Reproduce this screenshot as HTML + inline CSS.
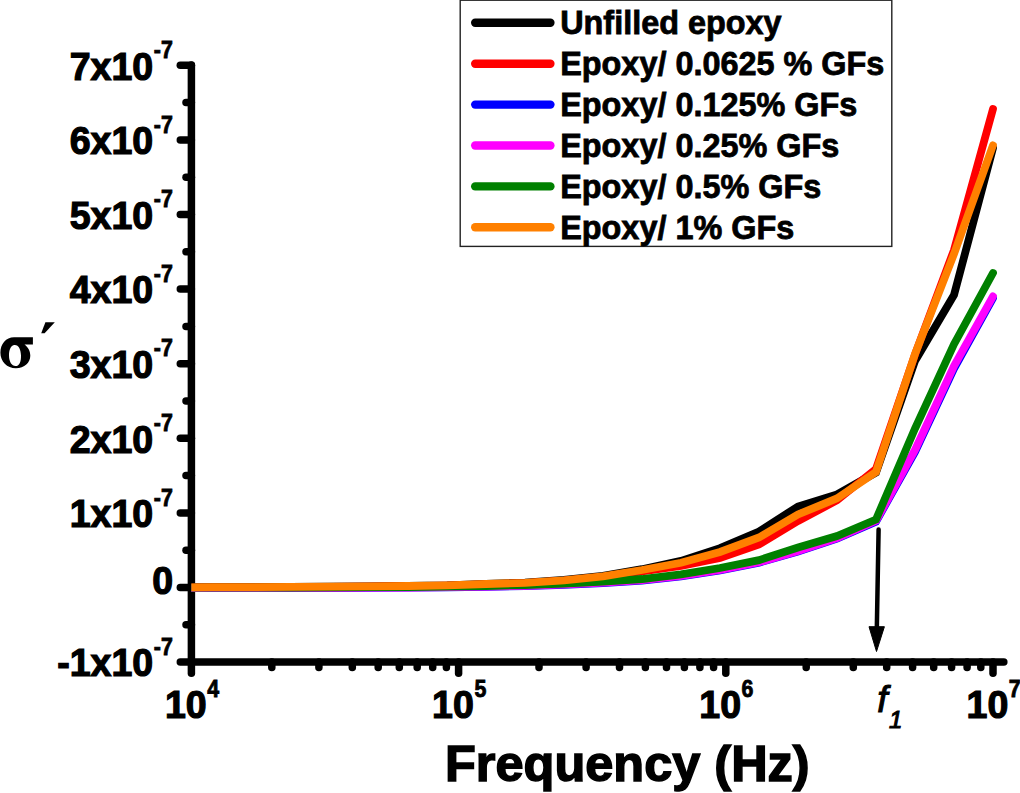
<!DOCTYPE html>
<html><head><meta charset="utf-8"><title>Conductivity vs Frequency</title>
<style>html,body{margin:0;padding:0;background:#fff;}body{width:1020px;height:793px;overflow:hidden;}svg{display:block;}text{font-family:"Liberation Sans",sans-serif;font-weight:bold;fill:#000;stroke:#000;stroke-width:0.6px;}.tk{stroke-width:1.2px;}.sp{stroke-width:0.8px;}.ti{stroke-width:1.5px;}.lg{stroke-width:0.8px;}.it{font-style:italic;font-weight:normal;stroke-width:1.1px;}.ser{font-family:"Liberation Serif",serif;font-weight:bold;}</style></head><body>
<svg width="1020" height="793" viewBox="0 0 1020 793">
<rect x="0" y="0" width="1020" height="793" fill="#ffffff"/>
<g stroke="#000" stroke-width="7.5" stroke-linecap="round" fill="none">
<path d="M191.4,65 L191.4,662"/>
<path d="M191.4,662 L1003.8,662"/>
<path d="M191.4,662.1 L180.3,662.1"/>
<path d="M191.4,624.8 L186,624.8"/>
<path d="M191.4,587.5 L180.3,587.5"/>
<path d="M191.4,550.2 L186,550.2"/>
<path d="M191.4,512.9 L180.3,512.9"/>
<path d="M191.4,475.6 L186,475.6"/>
<path d="M191.4,438.3 L180.3,438.3"/>
<path d="M191.4,401.0 L186,401.0"/>
<path d="M191.4,363.7 L180.3,363.7"/>
<path d="M191.4,326.4 L186,326.4"/>
<path d="M191.4,289.1 L180.3,289.1"/>
<path d="M191.4,251.8 L186,251.8"/>
<path d="M191.4,214.5 L180.3,214.5"/>
<path d="M191.4,177.2 L186,177.2"/>
<path d="M191.4,139.9 L180.3,139.9"/>
<path d="M191.4,102.6 L186,102.6"/>
<path d="M191.4,65.3 L180.3,65.3"/>
<path d="M191.4,662 L191.4,673.2"/>
<path d="M271.8,662 L271.8,667.6"/>
<path d="M318.9,662 L318.9,667.6"/>
<path d="M352.3,662 L352.3,667.6"/>
<path d="M378.2,662 L378.2,667.6"/>
<path d="M399.3,662 L399.3,667.6"/>
<path d="M417.2,662 L417.2,667.6"/>
<path d="M432.7,662 L432.7,667.6"/>
<path d="M446.4,662 L446.4,667.6"/>
<path d="M458.6,662 L458.6,673.2"/>
<path d="M539.0,662 L539.0,667.6"/>
<path d="M586.1,662 L586.1,667.6"/>
<path d="M619.5,662 L619.5,667.6"/>
<path d="M645.4,662 L645.4,667.6"/>
<path d="M666.5,662 L666.5,667.6"/>
<path d="M684.4,662 L684.4,667.6"/>
<path d="M699.9,662 L699.9,667.6"/>
<path d="M713.6,662 L713.6,667.6"/>
<path d="M725.8,662 L725.8,673.2"/>
<path d="M806.2,662 L806.2,667.6"/>
<path d="M853.3,662 L853.3,667.6"/>
<path d="M886.7,662 L886.7,667.6"/>
<path d="M912.6,662 L912.6,667.6"/>
<path d="M933.7,662 L933.7,667.6"/>
<path d="M951.6,662 L951.6,667.6"/>
<path d="M967.1,662 L967.1,667.6"/>
<path d="M980.8,662 L980.8,667.6"/>
<path d="M993.0,662 L993.0,673.2"/>
</g>
<clipPath id="pc"><rect x="191.4" y="0" width="830" height="700"/></clipPath>
<g fill="none" stroke-width="7.8" stroke-linecap="round" stroke-linejoin="miter" stroke-miterlimit="10" clip-path="url(#pc)">
<path d="M180.0,587.3 L191.4,587.3 L213.0,587.2 L252.0,587.1 L291.0,586.9 L330.0,586.7 L369.0,586.4 L408.0,586.0 L447.0,585.4 L486.0,583.9 L525.0,582.6 L564.0,580.0 L603.0,575.8 L642.0,569.2 L681.0,560.9 L720.0,548.2 L759.0,531.5 L798.0,506.5 L837.0,494.4 L876.0,472.5 L915.0,361.0 L954.0,295.0 L993.0,148.0" stroke="#000000"/>
<path d="M180.0,587.5 L191.4,587.5 L213.0,587.4 L252.0,587.3 L291.0,587.1 L330.0,586.9 L369.0,586.6 L408.0,586.2 L447.0,585.7 L486.0,584.4 L525.0,583.1 L564.0,580.7 L603.0,576.9 L642.0,571.4 L681.0,566.0 L720.0,558.0 L759.0,544.5 L798.0,521.0 L837.0,500.3 L876.0,469.0 L915.0,354.5 L954.0,250.0 L993.0,109.0" stroke="#ff0000"/>
<path d="M180.0,588.2 L191.4,588.2 L213.0,588.1 L252.0,588.1 L291.0,588.1 L330.0,588.0 L369.0,587.9 L408.0,587.7 L447.0,587.4 L486.0,586.9 L525.0,586.1 L564.0,584.8 L603.0,583.0 L642.0,580.6 L681.0,576.4 L720.0,570.4 L759.0,562.6 L798.0,551.4 L837.0,538.5 L876.0,521.6 L915.0,452.0 L954.0,368.5 L993.0,298.0" stroke="#0000ff"/>
<path d="M180.0,588.1 L191.4,588.1 L213.0,588.0 L252.0,588.0 L291.0,587.9 L330.0,587.8 L369.0,587.7 L408.0,587.5 L447.0,587.2 L486.0,586.7 L525.0,585.8 L564.0,584.4 L603.0,582.6 L642.0,580.2 L681.0,576.0 L720.0,570.0 L759.0,562.2 L798.0,551.0 L837.0,538.0 L876.0,520.8 L915.0,450.0 L954.0,366.0 L993.0,296.4" stroke="#ff00ff"/>
<path d="M180.0,587.7 L191.4,587.7 L213.0,587.6 L252.0,587.6 L291.0,587.5 L330.0,587.4 L369.0,587.2 L408.0,587.0 L447.0,586.6 L486.0,586.0 L525.0,585.0 L564.0,583.5 L603.0,581.6 L642.0,579.0 L681.0,574.3 L720.0,568.0 L759.0,560.1 L798.0,547.5 L837.0,536.0 L876.0,519.5 L915.0,428.5 L954.0,344.2 L993.0,273.0" stroke="#008000"/>
<path d="M180.0,587.3 L191.4,587.3 L213.0,587.2 L252.0,587.1 L291.0,586.9 L330.0,586.7 L369.0,586.4 L408.0,586.0 L447.0,585.4 L486.0,584.0 L525.0,582.8 L564.0,580.3 L603.0,576.3 L642.0,570.0 L681.0,562.8 L720.0,552.0 L759.0,537.5 L798.0,514.5 L837.0,498.4 L876.0,472.0 L915.0,354.0 L954.0,254.0 L993.0,145.3" stroke="#ff8000"/>
</g>
<text class="tk" transform="translate(153.2,676.4) scale(0.975,1.03)" font-size="38.5" text-anchor="end">-1x10</text>
<text class="sp" transform="translate(153.8,654.8) scale(0.95,1.07)" font-size="22.5">-7</text>
<text class="tk" transform="translate(173.2,593.9) scale(0.975,1.03)" font-size="38.5" text-anchor="end">0</text>
<text class="tk" transform="translate(153.2,527.2) scale(0.975,1.03)" font-size="38.5" text-anchor="end">1x10</text>
<text class="sp" transform="translate(153.8,505.6) scale(0.95,1.07)" font-size="22.5">-7</text>
<text class="tk" transform="translate(153.2,452.6) scale(0.975,1.03)" font-size="38.5" text-anchor="end">2x10</text>
<text class="sp" transform="translate(153.8,431.0) scale(0.95,1.07)" font-size="22.5">-7</text>
<text class="tk" transform="translate(153.2,378.0) scale(0.975,1.03)" font-size="38.5" text-anchor="end">3x10</text>
<text class="sp" transform="translate(153.8,356.4) scale(0.95,1.07)" font-size="22.5">-7</text>
<text class="tk" transform="translate(153.2,303.4) scale(0.975,1.03)" font-size="38.5" text-anchor="end">4x10</text>
<text class="sp" transform="translate(153.8,281.8) scale(0.95,1.07)" font-size="22.5">-7</text>
<text class="tk" transform="translate(153.2,228.8) scale(0.975,1.03)" font-size="38.5" text-anchor="end">5x10</text>
<text class="sp" transform="translate(153.8,207.2) scale(0.95,1.07)" font-size="22.5">-7</text>
<text class="tk" transform="translate(153.2,154.2) scale(0.975,1.03)" font-size="38.5" text-anchor="end">6x10</text>
<text class="sp" transform="translate(153.8,132.6) scale(0.95,1.07)" font-size="22.5">-7</text>
<text class="tk" transform="translate(153.2,79.6) scale(0.975,1.03)" font-size="38.5" text-anchor="end">7x10</text>
<text class="sp" transform="translate(153.8,58.0) scale(0.95,1.07)" font-size="22.5">-7</text>
<text class="tk" transform="translate(164.9,718.3) scale(0.975,1.03)" font-size="38.5">10</text>
<text class="sp" transform="translate(207.2,697.0) scale(0.95,1.07)" font-size="22.5">4</text>
<text class="tk" transform="translate(432.1,718.3) scale(0.975,1.03)" font-size="38.5">10</text>
<text class="sp" transform="translate(474.4,697.0) scale(0.95,1.07)" font-size="22.5">5</text>
<text class="tk" transform="translate(699.3,718.3) scale(0.975,1.03)" font-size="38.5">10</text>
<text class="sp" transform="translate(741.6,697.0) scale(0.95,1.07)" font-size="22.5">6</text>
<text class="tk" transform="translate(966.5,718.3) scale(0.975,1.03)" font-size="38.5">10</text>
<text class="sp" transform="translate(1008.8,697.0) scale(0.95,1.07)" font-size="22.5">7</text>
<text class="it" x="877.3" y="712.4" font-size="37">f</text>
<text class="it" x="889" y="727.9" font-size="24">1</text>
<text class="ti" transform="translate(445.0,780.9) scale(1.0,0.975)" font-size="50.5">Frequency (Hz)</text>
<path fill="#000" fill-rule="evenodd" d="M32.9,337.3 L14,337.3 C6,337.3 0.4,344 0.4,352.8 C0.4,361.5 7,368.3 15.9,368.3 C24.5,368.3 30.3,362.5 30.3,355.8 C30.3,351 28,347 24.5,344.5 L32.9,344.5 Z M14.6,344.9 C10.6,345.2 8.9,350 9.0,355.8 C9.1,361.8 11.8,366.2 15.6,366.1 C19.6,366 21.1,361.3 21.0,355.4 C20.9,349.5 18.6,344.7 14.6,344.9 Z"/>
<polygon points="45.4,322.2 54.8,322.2 44.6,333.3 41.2,333.3" fill="#000"/>
<path d="M878.6,529.5 L876.8,630" stroke="#000" stroke-width="4.5" stroke-linecap="round" fill="none"/>
<polygon points="869,626.7 884.4,626.7 876.5,651.5" fill="#000" stroke="#000" stroke-width="1" stroke-linejoin="round"/>
<rect x="460.2" y="0.2" width="431.6" height="246.2" fill="#fff" stroke="#222" stroke-width="1.4"/>
<path d="M475.2,22.8 L550.4,22.8" stroke="#000000" stroke-width="8.4" stroke-linecap="round"/>
<text class="lg" x="560.2" y="34.1" font-size="32.4">Unfilled epoxy</text>
<path d="M475.2,63.7 L550.4,63.7" stroke="#ff0000" stroke-width="8.4" stroke-linecap="round"/>
<text class="lg" x="560.2" y="75.1" font-size="32.4">Epoxy/ 0.0625 % GFs</text>
<path d="M475.2,104.6 L550.4,104.6" stroke="#0000ff" stroke-width="8.4" stroke-linecap="round"/>
<text class="lg" x="560.2" y="116.1" font-size="32.4">Epoxy/ 0.125% GFs</text>
<path d="M475.2,145.5 L550.4,145.5" stroke="#ff00ff" stroke-width="8.4" stroke-linecap="round"/>
<text class="lg" x="560.2" y="157.1" font-size="32.4">Epoxy/ 0.25% GFs</text>
<path d="M475.2,186.4 L550.4,186.4" stroke="#008000" stroke-width="8.4" stroke-linecap="round"/>
<text class="lg" x="560.2" y="198.1" font-size="32.4">Epoxy/ 0.5% GFs</text>
<path d="M475.2,227.3 L550.4,227.3" stroke="#ff8000" stroke-width="8.4" stroke-linecap="round"/>
<text class="lg" x="560.2" y="239.1" font-size="32.4">Epoxy/ 1% GFs</text>
</svg></body></html>
